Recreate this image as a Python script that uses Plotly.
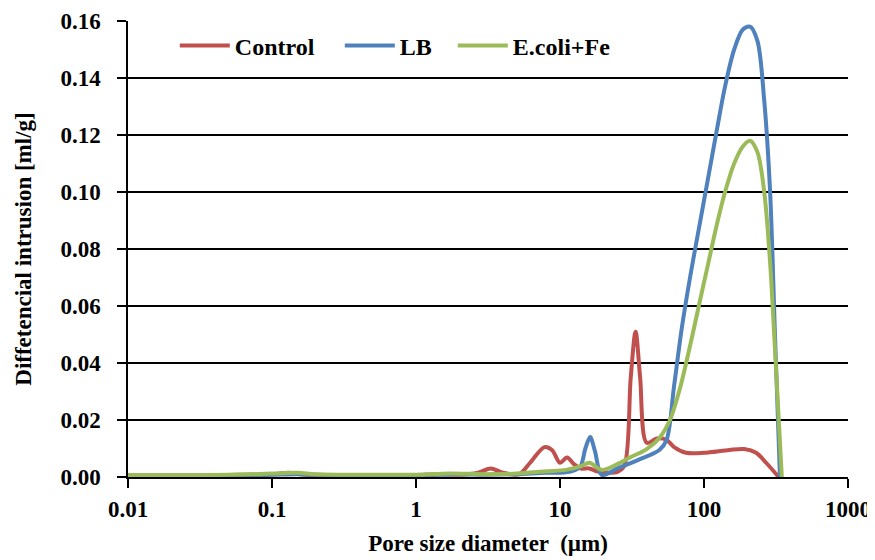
import plotly.graph_objects as go

# Control
ctrl_x = [0.01, 0.02, 0.05, 0.1, 0.13, 0.17, 0.3, 0.6, 1, 1.5, 2, 2.7, 3.3, 4, 5.2, 6.2, 7.8, 8.8, 10, 11.2, 12.5, 14, 16, 18, 21, 25, 28, 31, 33.5, 36, 40, 47, 55, 62, 75, 100, 150, 190, 230, 270, 330]
ctrl_y = [0.0005, 0.0005, 0.0007, 0.001, 0.0015, 0.0008, 0.0005, 0.0005, 0.0007, 0.001, 0.0008, 0.0015, 0.003, 0.0015, 0.001, 0.005, 0.0105, 0.0095, 0.005, 0.0068, 0.0045, 0.003, 0.003, 0.002, 0.0015, 0.0018, 0.004, 0.035, 0.051, 0.035, 0.012, 0.0135, 0.013, 0.0105, 0.0085, 0.0085, 0.0095, 0.0098, 0.0085, 0.005, 0.0]

# LB
lb_x = [0.01, 0.05, 0.1, 0.15, 0.3, 1, 2, 3, 5, 8, 10, 12, 13.8, 15, 16.2, 17.5, 19.5, 25, 35, 49, 55, 62, 70, 80, 92, 106, 122, 140, 162, 186, 209, 235, 262, 288, 311, 337]
lb_y = [0.0005, 0.0005, 0.0008, 0.001, 0.0005, 0.0005, 0.001, 0.0008, 0.001, 0.0015, 0.0015, 0.002, 0.0035, 0.01, 0.014, 0.009, 0.0007, 0.003, 0.006, 0.0095, 0.013, 0.032, 0.052, 0.070, 0.087, 0.104, 0.121, 0.137, 0.150, 0.157, 0.158, 0.153, 0.132, 0.0997, 0.050, 0.0]

# E.coli+Fe
ec_x = [0.01, 0.05, 0.1, 0.15, 0.2, 0.5, 1, 1.7, 3, 5, 8, 11, 14, 16, 19.5, 25, 31, 40, 49, 58, 68, 80, 92, 106, 122, 140, 162, 186, 209, 235, 262, 288, 311, 347]
ec_y = [0.0007, 0.0008, 0.0012, 0.0015, 0.001, 0.0008, 0.0008, 0.0012, 0.001, 0.0012, 0.002, 0.0025, 0.0038, 0.005, 0.0025, 0.0045, 0.007, 0.0098, 0.0137, 0.020, 0.031, 0.046, 0.060, 0.074, 0.088, 0.100, 0.110, 0.116, 0.118, 0.114, 0.100, 0.075, 0.045, 0.0]

x_ticks = [0.01, 0.1, 1, 10, 100, 1000]
x_tick_labels = ["0.01", "0.1", "1", "10", "100", "1000"]
y_ticks = [0, 0.02, 0.04, 0.06, 0.08, 0.10, 0.12, 0.14, 0.16]

FONT = "Liberation Serif"

fig = go.Figure()
for name, xs, ys, col, lw in [("Control", ctrl_x, ctrl_y, "#C0504D", 100),
                              ("LB", lb_x, lb_y, "#4F81BD", 48),
                              ("E.coli+Fe", ec_x, ec_y, "#9BBB59", 110)]:
    fig.add_trace(go.Scatter(x=xs, y=ys, name="<b>%s</b>" % name, mode="lines",
                             legendwidth=lw,
                             line=dict(color=col, width=4, shape="spline", smoothing=0.9)))

fig.update_layout(
    width=867, height=552,
    margin=dict(l=120, r=27, t=13, b=83, autoexpand=False),
    paper_bgcolor="white", plot_bgcolor="white",
    font=dict(family=FONT, size=23, color="black"),
    legend=dict(orientation="h", x=0.065, y=0.995, xanchor="left", yanchor="top",
                bgcolor="rgba(0,0,0,0)", font=dict(family=FONT, size=24, color="black"),
                itemwidth=50, tracegroupgap=0),
    showlegend=True,
)
fig.update_xaxes(
    type="log", range=[-2, 3], tickvals=x_ticks,
    ticktext=["<b>%s</b>" % t for t in x_tick_labels], automargin=False,
    showgrid=False, zeroline=False, showline=True, linecolor="black", linewidth=1.5,
    ticks="outside", ticklen=9, tickcolor="black", tickwidth=1.5, ticklabelstandoff=2,
    tickfont=dict(family=FONT, size=23, color="black"),
    title=dict(text="<b>Pore size diameter  (µm)</b>", font=dict(family=FONT, size=23), standoff=14),
)
fig.update_yaxes(
    range=[0, 0.16], tickvals=y_ticks, ticktext=["<b>%.2f</b>" % v for v in y_ticks],
    automargin=False,
    showgrid=True, gridcolor="black", gridwidth=1.5, zeroline=False,
    showline=True, linecolor="black", linewidth=1.5,
    ticks="outside", ticklen=9, tickcolor="black", tickwidth=1.5, ticklabelstandoff=12,
    tickfont=dict(family=FONT, size=23, color="black"),
    title=dict(text="<b>Diffetencial intrusion [ml/g]</b>", font=dict(family=FONT, size=23), standoff=22),
)

fig.write_html("out.html")
